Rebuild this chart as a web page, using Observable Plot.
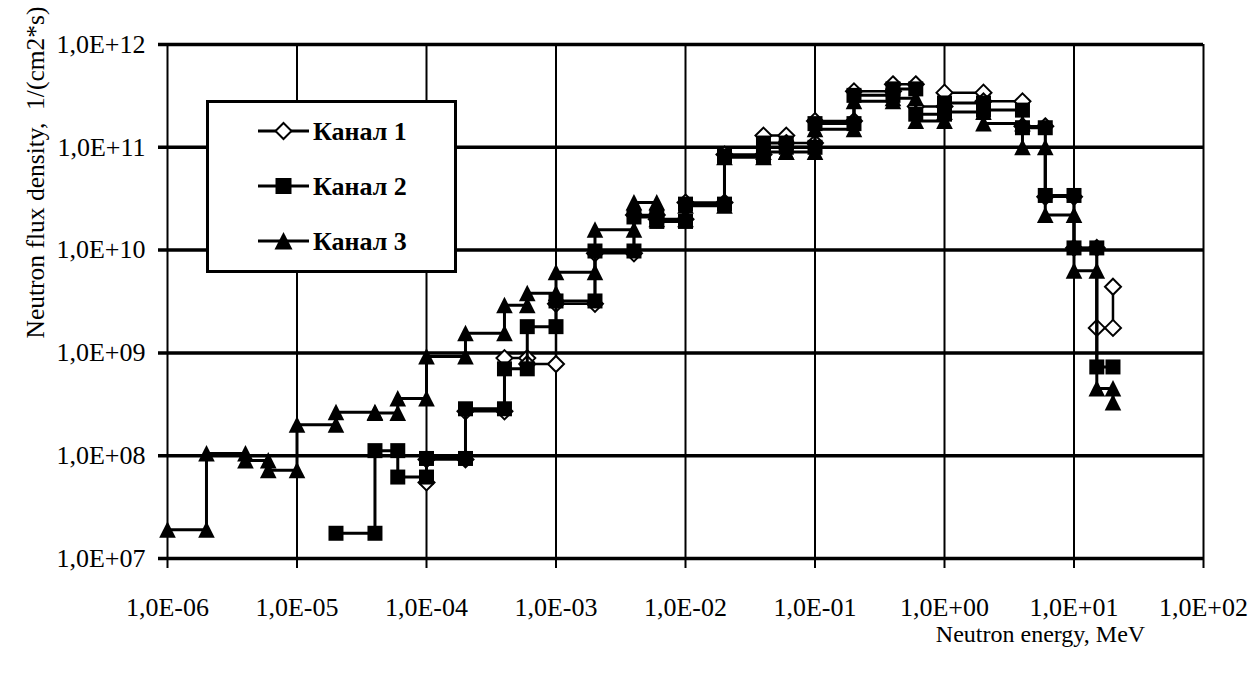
<!DOCTYPE html>
<html><head><meta charset="utf-8">
<script src="https://cdn.jsdelivr.net/npm/d3@7"></script>
<script src="https://cdn.jsdelivr.net/npm/@observablehq/plot@0.6"></script>
<style>body{margin:0;background:#fff;} #chart{position:relative;width:1253px;height:675px;}</style>
</head><body><div id="chart"></div>
<script>
// Energy group boundaries, MeV
const energyBounds = [1e-6, 2e-6, 4e-6, 6e-6, 1e-5, 2e-5, 4e-5, 6e-5, 1e-4, 2e-4, 4e-4, 6e-4, 1e-3, 2e-3, 4e-3, 6e-3, 1e-2, 2e-2, 4e-2, 6e-2, 1e-1, 2e-1, 4e-1, 6e-1, 1, 2, 4, 6, 10, 15, 20];
const seriesNames = ["Канал 1", "Канал 2", "Канал 3"];
// group values (flux per group), first group index, lone leading point, trailing point at 20 MeV
const kanal1Start = 8;
const kanal1Head = 5.5e7;
const kanal1 = [9.2e7, 2.7e8, 8.9e8, 7.8e8, 3.0e9, 9.3e9, 2.2e10, 2.0e10, 2.9e10, 8.5e10, 1.3e11, 1.1e11, 1.8e11, 3.5e11, 4.1e11, 2.5e11, 3.4e11, 2.8e11, 1.6e11, 3.3e10, 1.05e10, 1.75e9];
const kanal1Tail = 4.4e9;
const kanal2Start = 5;
const kanal2Head = null;
const kanal2 = [1.76e7, 1.12e8, 6.2e7, 9.4e7, 2.86e8, 7.0e8, 1.8e9, 3.2e9, 9.8e9, 2.1e10, 1.9e10, 2.8e10, 8.2e10, 1.1e11, 1.0e11, 1.7e11, 3.2e11, 3.7e11, 2.1e11, 2.7e11, 2.3e11, 1.55e11, 3.4e10, 1.05e10, 7.3e8];
const kanal2Tail = null;
const kanal3Start = 0;
const kanal3Head = null;
const kanal3 = [1.9e7, 1.05e8, 9.0e7, 7.2e7, 2.0e8, 2.65e8, 2.6e8, 3.6e8, 9.2e8, 1.55e9, 2.9e9, 3.8e9, 6.1e9, 1.58e10, 2.9e10, 2.0e10, 2.7e10, 8.0e10, 9.0e10, 9.0e10, 1.5e11, 2.8e11, 3.0e11, 1.8e11, 2.2e11, 1.7e11, 1.0e11, 2.2e10, 6.3e9, 4.5e8];
const kanal3Tail = 3.3e8;

const xTicks = [1e-6, 1e-5, 1e-4, 1e-3, 1e-2, 1e-1, 1, 10, 100];
const xTickLabels = ["1,0E-06", "1,0E-05", "1,0E-04", "1,0E-03", "1,0E-02", "1,0E-01", "1,0E+00", "1,0E+01", "1,0E+02"];
const yTicks = [1e7, 1e8, 1e9, 1e10, 1e11, 1e12];
const yTickLabels = ["1,0E+07", "1,0E+08", "1,0E+09", "1,0E+10", "1,0E+11", "1,0E+12"];
const xTitle = "Neutron energy, MeV";
const yTitle = "Neutron flux density,  1/(cm2*s)";

function steps(start, head, vals, tail) {
  const pts = [];
  if (head != null) pts.push({x: energyBounds[start], y: head});
  vals.forEach((v, k) => {
    pts.push({x: energyBounds[start + k], y: v}, {x: energyBounds[start + k + 1], y: v});
  });
  if (tail != null) pts.push({x: energyBounds[start + vals.length], y: tail});
  return pts;
}
const s1 = steps(kanal1Start, kanal1Head, kanal1, kanal1Tail);
const s2 = steps(kanal2Start, kanal2Head, kanal2, kanal2Tail);
const s3 = steps(kanal3Start, kanal3Head, kanal3, kanal3Tail);

const symDiamond = {draw(c) { c.moveTo(0, -8); c.lineTo(8, 0); c.lineTo(0, 8); c.lineTo(-8, 0); c.closePath(); }};
const symSquare = {draw(c) { c.rect(-7.5, -7.5, 15, 15); }};
const symTriangle = {draw(c) { c.moveTo(0, -8.5); c.lineTo(8.3, 8); c.lineTo(-8.3, 8); c.closePath(); }};

const xLab = new Map(xTicks.map((t, i) => [t, xTickLabels[i]]));
const yLab = new Map(yTicks.map((t, i) => [t, yTickLabels[i]]));
const font = "'Liberation Serif', 'Times New Roman', serif";

const chart = Plot.plot({
  width: 1253, height: 675,
  marginLeft: 167, marginRight: 50, marginTop: 44, marginBottom: 117,
  x: {type: "log", domain: [1e-6, 1e2]},
  y: {type: "log", domain: [1e7, 1e12]},
  style: {fontFamily: font, background: "#fff", color: "#000"},
  marks: [
    Plot.ruleX(xTicks, {stroke: "#000", strokeWidth: 2, insetBottom: -10}),
    Plot.ruleY(yTicks, {stroke: "#000", strokeWidth: 3.5, insetLeft: -9}),
    Plot.axisX({ticks: xTicks, tickFormat: d => xLab.get(d), tickSize: 0, tickPadding: 39, fontSize: 26, label: null}),
    Plot.axisY({ticks: yTicks, tickFormat: d => yLab.get(d), tickSize: 0, tickPadding: 22, fontSize: 26, label: null}),
    Plot.line(s1, {x: "x", y: "y", stroke: "#000", strokeWidth: 2.5}),
    Plot.dot(s1, {x: "x", y: "y", symbol: symDiamond, r: 8, fill: "#fff", stroke: "#000", strokeWidth: 2}),
    Plot.line(s2, {x: "x", y: "y", stroke: "#000", strokeWidth: 3}),
    Plot.dot(s2, {x: "x", y: "y", symbol: symSquare, r: 8, fill: "#000", stroke: "none"}),
    Plot.line(s3, {x: "x", y: "y", stroke: "#000", strokeWidth: 3}),
    Plot.dot(s3, {x: "x", y: "y", symbol: symTriangle, r: 8, fill: "#000", stroke: "none"}),
    Plot.text([yTitle], {frameAnchor: "top-left", rotate: -90, dx: -142, dy: 128, fontSize: 25.5, textAnchor: "middle", fill: "#000"}),
    Plot.text([xTitle], {frameAnchor: "bottom-left", dx: 873, dy: 83, fontSize: 24, textAnchor: "middle", fill: "#000"})
  ]
});
document.getElementById("chart").appendChild(chart);

// legend
const svg = d3.select(chart);
const lg = svg.append("g").attr("text-anchor", "start");
lg.append("rect").attr("x", 207.5).attr("y", 101.5).attr("width", 248).attr("height", 170)
  .attr("fill", "#fff").attr("stroke", "#000").attr("stroke-width", 3);
const legPaths = ["M0,-8L8,0L0,8L-8,0Z", "M-8,-8h16v16h-16z", "M0,-9L9,8.5L-9,8.5Z"];
const legFill = ["#fff", "#000", "#000"];
seriesNames.forEach((name, i) => {
  const cy = 131 + i * 55;
  lg.append("line").attr("x1", 258).attr("x2", 309).attr("y1", cy).attr("y2", cy)
    .attr("stroke", "#000").attr("stroke-width", 3);
  lg.append("path").attr("d", legPaths[i]).attr("transform", `translate(283.5,${cy})`)
    .attr("fill", legFill[i]).attr("stroke", i === 0 ? "#000" : "none").attr("stroke-width", 2);
  lg.append("text").attr("x", 313).attr("y", cy + 9).attr("font-family", font)
    .attr("text-anchor", "start")
    .attr("font-size", 26).attr("font-weight", "bold").attr("fill", "#000").text(name);
});
</script>
</body></html>
